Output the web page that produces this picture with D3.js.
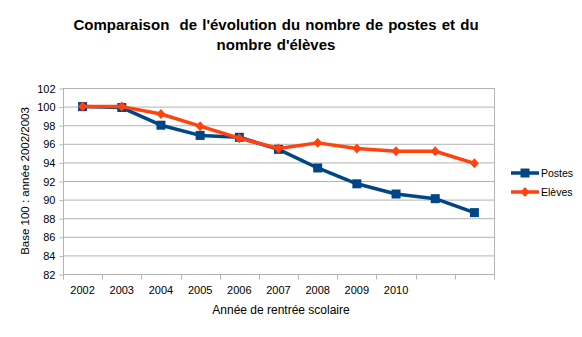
<!DOCTYPE html>
<html>
<head>
<meta charset="utf-8">
<script src="https://cdn.jsdelivr.net/npm/d3@7"></script>
<style>
  body { margin: 0; background: #fff; }
  svg { display: block; font-family: "Liberation Sans", Arial, sans-serif; }
</style>
</head>
<body>
<svg id="chart" width="582" height="337"></svg>
<script>
// school years (the last two have no printed label)
const years = ["2002", "2003", "2004", "2005", "2006", "2007", "2008", "2009", "2010", "2011", "2012"];
const tickLabels = ["2002", "2003", "2004", "2005", "2006", "2007", "2008", "2009", "2010", "", ""];
const postes = [100, 99.9, 98.0, 96.9, 96.7, 95.4, 93.4, 91.7, 90.6, 90.1, 88.6];
const eleves = [100, 100, 99.2, 97.9, 96.6, 95.5, 96.1, 95.5, 95.2, 95.2, 93.9];
const yTicks = [82, 84, 86, 88, 90, 92, 94, 96, 98, 100, 102];

const series = [
  { name: "Postes", values: postes, color: "#004586", marker: "square" },
  { name: "Elèves", values: eleves, color: "#ff420e", marker: "diamond" }
];

const svg = d3.select("#chart");
const plot = { left: 63, right: 494, top: 88, bottom: 274 };

const x = d3.scaleBand().domain(years).range([plot.left, plot.right]);
const y = d3.scaleLinear().domain([82, 102]).range([plot.bottom, plot.top]);

// title
const title = svg.append("text")
  .attr("text-anchor", "middle")
  .attr("font-weight", "bold")
  .attr("font-size", 15)
  .attr("word-spacing", 1)
  .style("white-space", "pre")
  .attr("fill", "#000");
title.append("tspan").attr("x", 276).attr("y", 30).text("Comparaison  de l'évolution du nombre de postes et du");
title.append("tspan").attr("x", 276).attr("y", 50).text("nombre d'élèves");

// horizontal grid
svg.append("g")
  .selectAll("line")
  .data(yTicks)
  .join("line")
  .attr("x1", plot.left).attr("x2", plot.right)
  .attr("y1", d => y(d) + 0.5).attr("y2", d => y(d) + 0.5)
  .attr("stroke", "#b3b3b3");

// right border of the plot area
svg.append("line")
  .attr("x1", plot.right + 0.5).attr("x2", plot.right + 0.5)
  .attr("y1", plot.top).attr("y2", plot.bottom + 5)
  .attr("stroke", "#b3b3b3");

// y axis
const yAxis = svg.append("g")
  .attr("transform", `translate(${plot.left + 0.5},0.5)`)
  .call(d3.axisLeft(y).tickValues(yTicks).tickSize(4).tickPadding(4));
yAxis.selectAll("line, path").attr("stroke", "#b3b3b3");
yAxis.select(".domain").attr("d", `M0,${plot.top}V${plot.bottom}`);
yAxis.selectAll("text").attr("font-size", 11).attr("fill", "#000")
  .attr("font-family", "Liberation Sans, Arial, sans-serif");

// x axis: ticks sit on the category boundaries
const xAxis = svg.append("g")
  .attr("transform", `translate(0,${plot.bottom + 0.5})`);
xAxis.append("line")
  .attr("x1", plot.left).attr("x2", plot.right)
  .attr("stroke", "#b3b3b3");
xAxis.selectAll("line.tick")
  .data(years.concat(["end"]))
  .join("line")
  .attr("class", "tick")
  .attr("x1", (d, i) => Math.round(plot.left + i * x.step()) + 0.5)
  .attr("x2", (d, i) => Math.round(plot.left + i * x.step()) + 0.5)
  .attr("y1", 0).attr("y2", 5)
  .attr("stroke", "#b3b3b3");
xAxis.selectAll("text")
  .data(years)
  .join("text")
  .attr("x", d => x(d) + x.bandwidth() / 2)
  .attr("y", 19)
  .attr("text-anchor", "middle")
  .attr("font-size", 11)
  .attr("fill", "#000")
  .text((d, i) => tickLabels[i]);

// axis titles
svg.append("text")
  .attr("x", 281).attr("y", 314)
  .attr("text-anchor", "middle")
  .attr("font-size", 12)
  .attr("fill", "#000")
  .text("Année de rentrée scolaire");

svg.append("text")
  .attr("transform", `translate(29,${(plot.top + plot.bottom) / 2}) rotate(-90)`)
  .attr("text-anchor", "middle")
  .attr("font-size", 11.5)
  .attr("fill", "#000")
  .text("Base 100 : année 2002/2003");

// lines and markers
const line = d3.line()
  .x((d, i) => x(years[i]) + x.bandwidth() / 2)
  .y(d => y(d));

const markerPath = (type, cx, cy) => {
  if (type === "square") return `M${cx - 4.5},${cy - 4.5}h9v9h-9Z`;
  return `M${cx},${cy - 5}L${cx + 4.5},${cy}L${cx},${cy + 5}L${cx - 4.5},${cy}Z`;
};

series.forEach(s => {
  const g = svg.append("g");
  g.append("path")
    .datum(s.values)
    .attr("d", line)
    .attr("fill", "none")
    .attr("stroke", s.color)
    .attr("stroke-width", 3.5)
    .attr("stroke-linejoin", "round");
  g.selectAll("path.pt")
    .data(s.values)
    .join("path")
    .attr("class", "pt")
    .attr("d", (d, i) => markerPath(s.marker, x(years[i]) + x.bandwidth() / 2, y(d)))
    .attr("fill", s.color);
});

// legend
const legend = svg.append("g");
series.forEach((s, i) => {
  const ly = 173 + i * 19;
  legend.append("line")
    .attr("x1", 511).attr("x2", 539)
    .attr("y1", ly).attr("y2", ly)
    .attr("stroke", s.color).attr("stroke-width", 3.5);
  legend.append("path")
    .attr("d", markerPath(s.marker, 525, ly))
    .attr("fill", s.color);
  legend.append("text")
    .attr("x", 541).attr("y", ly + 4)
    .attr("font-size", 10.5)
    .attr("fill", "#000")
    .text(s.name);
});
</script>
</body>
</html>
